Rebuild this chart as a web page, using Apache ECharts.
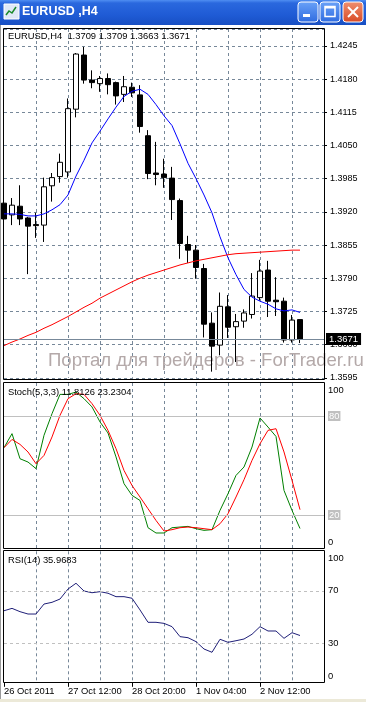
<!DOCTYPE html>
<html><head><meta charset="utf-8">
<script src="https://cdn.jsdelivr.net/npm/echarts@6/dist/echarts.min.js"></script>
<style>html,body{margin:0;padding:0;background:#fff;}#c{width:366px;height:702px;}</style>
</head><body><div id="c"></div>
<script>
// ---- data ----
const times = ['2011.10.26 04:00','2011.10.26 08:00','2011.10.26 12:00','2011.10.26 16:00','2011.10.26 20:00',
 '2011.10.27 00:00','2011.10.27 04:00','2011.10.27 08:00','2011.10.27 12:00','2011.10.27 16:00','2011.10.27 20:00',
 '2011.10.28 00:00','2011.10.28 04:00','2011.10.28 08:00','2011.10.28 12:00','2011.10.28 16:00','2011.10.28 20:00',
 '2011.10.31 00:00','2011.10.31 04:00','2011.10.31 08:00','2011.10.31 12:00','2011.10.31 16:00','2011.10.31 20:00',
 '2011.11.01 00:00','2011.11.01 04:00','2011.11.01 08:00','2011.11.01 12:00','2011.11.01 16:00','2011.11.01 20:00',
 '2011.11.02 00:00','2011.11.02 04:00','2011.11.02 08:00','2011.11.02 12:00','2011.11.02 16:00','2011.11.02 20:00',
 '2011.11.03 00:00','2011.11.03 04:00','2011.11.03 08:00'];
const open  = [1.3937,1.3914,1.3931,1.3908,1.3895,1.3894,1.3971,1.3989,1.3998,1.4121,1.4227,1.4178,1.4171,1.4181,1.4173,1.4150,1.4164,1.4149,1.4069,1.3996,1.3994,1.3986,1.3942,1.3856,1.3845,1.3809,1.3702,1.3659,1.3734,1.3695,1.3706,1.3719,1.3752,1.3806,1.3747,1.3745,1.3669,1.3709];
const high  = [1.3949,1.3947,1.3972,1.3910,1.3918,1.3987,1.3996,1.4034,1.4142,1.4231,1.4243,1.4197,1.4186,1.4191,1.4175,1.4186,1.4173,1.4168,1.4080,1.4057,1.4024,1.4008,1.3946,1.3873,1.3855,1.3818,1.3723,1.3762,1.3757,1.3720,1.3729,1.3800,1.3826,1.3824,1.3792,1.3752,1.3718,1.3709];
const low   = [1.3900,1.3894,1.3894,1.3798,1.3869,1.3861,1.3940,1.3977,1.3987,1.4105,1.4171,1.4162,1.4155,1.4150,1.4130,1.4135,1.4145,1.4075,1.3984,1.3972,1.3967,1.3904,1.3828,1.3820,1.3789,1.3674,1.3607,1.3639,1.3673,1.3626,1.3693,1.3711,1.3746,1.3714,1.3716,1.3664,1.3664,1.3663];
const close = [1.3906,1.3933,1.3906,1.3892,1.3893,1.3969,1.3987,1.4017,1.4122,1.4229,1.4178,1.4173,1.4181,1.4169,1.4147,1.4165,1.4153,1.4087,1.3995,1.3993,1.3987,1.3944,1.3858,1.3845,1.3811,1.3700,1.3657,1.3735,1.3694,1.3705,1.3722,1.3755,1.3804,1.3745,1.3744,1.3669,1.3708,1.3671];
const maFast = [1.3916,1.3916,1.3915,1.3912,1.3912,1.3916,1.3924,1.3934,1.3953,1.3990,1.4021,1.4055,1.4078,1.4102,1.4125,1.4146,1.4156,1.4160,1.4150,1.4130,1.4108,1.4089,1.4053,1.4015,1.3985,1.3953,1.3918,1.3871,1.3830,1.3797,1.3768,1.3753,1.3745,1.3739,1.3730,1.3726,1.3728,1.3723];
const maSlow = [1.3658,1.3665,1.3671,1.3678,1.3684,1.3692,1.3699,1.3707,1.3715,1.3724,1.3733,1.3741,1.3751,1.3759,1.3767,1.3775,1.3783,1.3790,1.3796,1.3801,1.3806,1.3811,1.3816,1.3820,1.3824,1.3827,1.3830,1.3833,1.3836,1.3838,1.3839,1.3840,1.3841,1.3842,1.3843,1.3844,1.3845,1.3845];
const stochMain = [60.8,69.3,54.1,52.1,48.1,68.3,81.4,93.1,93.1,94.5,90.5,85.5,76.4,69.7,55.2,39.0,31.9,28.8,12.3,9.1,9.1,12.3,12.7,13.1,11.7,10.7,11.1,22.8,32.9,44.0,49.1,61.2,78.8,73.3,67.6,34.9,22.8,11.8126];
const stochSignal = [60.8,65.8,62.8,58.2,51.1,56.1,67.3,80.4,90.5,93.5,93.1,87.5,80.4,71.3,60.2,47.0,37.9,30.9,23.8,16.7,10.3,11.1,12.3,12.7,12.3,11.7,11.1,14.7,20.8,30.9,41.4,53.1,63.2,71.3,72.3,58.2,41.0,23.2304];
const rsi = [54.8,56.6,54.1,52.3,52.3,59.9,61.2,63.7,71.3,75.7,69.8,68.5,69.3,68.1,65.5,65.5,64.3,55.4,46.0,46.0,45.2,42.7,35.1,34.3,31.3,25.7,23.2,33.1,30.8,32.0,33.3,36.9,42.7,39.4,39.4,33.8,38.1,35.9683];
const xTickIndex = [0,8,16,24,32];
const xTickLabels = ['26 Oct 2011','27 Oct 12:00','28 Oct 20:00','1 Nov 04:00','2 Nov 12:00'];
const priceMin = 1.3595, priceMax = 1.4278, priceStep = 0.0065;
const stochLevels = [80,20];
const rsiLevels = [70,30];
const stochLabels = [0,20,80,100];
const rsiLabels = [0,30,70,100];

// ---- chart ----
const FONT = 'Liberation Sans, Arial, sans-serif';
const FS = 9.4;
const n = times.length;
const cats = times.concat(['p1','p2','p3']);
const last = n - 1;
const grid = (top, height) => ({left:4, right:42, top:top, height:height, show:false});
const vSplit = {show:true, interval:(i)=> i>0 && i%4===0 && i<40, lineStyle:{color:'#778899', type:[3,3], width:1}};
const xAxis = (gi, labels) => ({
  type:'category', gridIndex:gi, data:cats, boundaryGap:false,
  axisLine:{show:false},
  axisTick:{show:labels, length:4, interval:(i)=>xTickIndex.indexOf(i)>=0, lineStyle:{color:'#000'}},
  axisLabel:{show:labels, interval:(i)=>xTickIndex.indexOf(i)>=0, align:'left', margin:4,
    formatter:(v,i)=> { const k = xTickIndex.indexOf(i); return k>=0 ? xTickLabels[k] : ''; },
    color:'#000', fontSize:FS, fontFamily:FONT},
  splitLine:vSplit
});
const indAxis = (gi, vals, grayVals) => ({
  type:'value', gridIndex:gi, position:'right', min:0, max:100,
  axisLine:{show:false}, axisTick:{show:false}, splitLine:{show:false},
  axisLabel:{customValues:vals, margin:4, color:'#000', fontSize:FS, fontFamily:FONT,
    formatter:(v)=> v===100 ? '{t|100}' : v===0 ? '{b|0}' : (grayVals.indexOf(v)>=0 ? '{g|'+v+'}' : String(v)),
    rich:{t:{padding:[15,0,0,0],fontSize:FS,fontFamily:FONT}, b:{padding:[0,0,12,0],fontSize:FS,fontFamily:FONT},
          g:{backgroundColor:'#c0c0c0', color:'#ffffff', padding:[1,1,0,1], fontSize:FS,fontFamily:FONT}}}
});
const levelLine = (vals, type) => ({silent:true, symbol:['none','none'], label:{show:false}, precision:4,
  lineStyle:{color:'#c0c0c0', type:type, width:1}, data: vals.map(v=>({yAxis:v}))});
const txt = {fontSize:FS, fontWeight:'normal', color:'#000', fontFamily:FONT};

const option = {
  animation:false,
  backgroundColor:'#ffffff',
  title:[
    {text:'EURUSD,H4  '+[open[last],high[last],low[last],close[last]].map(v=>v.toFixed(4)).join(' '), left:8, top:32, padding:0, textStyle:txt},
    {text:'Stoch(5,3,3) '+stochMain[last].toFixed(4)+' '+stochSignal[last].toFixed(4), left:8, top:388, padding:0, textStyle:txt},
    {text:'RSI(14) '+rsi[last].toFixed(4), left:8, top:556, padding:0, textStyle:txt}
  ],
  grid:[grid(29,348.8), grid(383,165), grid(551.3,131.5)],
  xAxis:[xAxis(0,false), xAxis(1,false), xAxis(2,true)],
  yAxis:[
    {type:'value', gridIndex:0, position:'right', min:priceMin, max:priceMax, interval:priceStep,
     axisLine:{show:false}, axisTick:{show:true, length:3, lineStyle:{color:'#000'}},
     axisLabel:{margin:6, showMaxLabel:false, showMinLabel:true, color:'#000', fontSize:9, fontFamily:FONT, formatter:(v)=>v.toFixed(4)},
     splitLine:{show:true, lineStyle:{color:'#778899', type:[3,3], width:1}}},
    indAxis(1, stochLabels, stochLevels),
    indAxis(2, rsiLabels, [])
  ],
  graphic:[
    // window title bar
    {type:'rect', shape:{x:0,y:0,width:366,height:25}, z:100,
     style:{fill:{type:'linear',x:0,y:0,x2:0,y2:1,colorStops:[{offset:0,color:'#4f8ef2'},{offset:0.12,color:'#2a68de'},{offset:0.6,color:'#1f5bd5'},{offset:1,color:'#174fc3'}]}}},
    {type:'rect', shape:{x:4,y:4,width:15,height:15}, z:101, style:{fill:'#dfe8f6', stroke:'#ffffff', lineWidth:1}},
    {type:'polyline', shape:{points:[[6,15],[9,11],[12,13],[16,7]]}, z:102, style:{stroke:'#1a8a2a', lineWidth:1.5, fill:null}},
    {type:'text', x:22, y:12, z:101, style:{text:'EURUSD ,H4', fill:'#ffffff', font:'bold 12.5px '+FONT, verticalAlign:'middle', textShadowColor:'#0a2a80', textShadowOffsetX:1, textShadowOffsetY:1, textShadowBlur:0}},
    {type:'rect', shape:{x:298,y:2,width:20,height:20,r:3}, z:101, style:{fill:{type:'linear',x:0,y:0,x2:0,y2:1,colorStops:[{offset:0,color:'#6aa2f8'},{offset:1,color:'#2e6be0'}]}, stroke:'#ffffff', lineWidth:1}},
    {type:'rect', shape:{x:303,y:14,width:7,height:3}, z:102, style:{fill:'#ffffff'}},
    {type:'rect', shape:{x:320,y:2,width:20,height:20,r:3}, z:101, style:{fill:{type:'linear',x:0,y:0,x2:0,y2:1,colorStops:[{offset:0,color:'#6aa2f8'},{offset:1,color:'#2e6be0'}]}, stroke:'#ffffff', lineWidth:1}},
    {type:'rect', shape:{x:325,y:6.5,width:10,height:10}, z:102, style:{fill:null, stroke:'#ffffff', lineWidth:1.5}},
    {type:'rect', shape:{x:325,y:6,width:10,height:2.5}, z:102, style:{fill:'#ffffff'}},
    {type:'rect', shape:{x:343,y:2,width:20,height:20,r:3}, z:101, style:{fill:{type:'linear',x:0,y:0,x2:0,y2:1,colorStops:[{offset:0,color:'#f09070'},{offset:1,color:'#d84a25'}]}, stroke:'#ffffff', lineWidth:1}},
    {type:'line', shape:{x1:348,y1:7,x2:358,y2:17}, z:102, style:{stroke:'#ffffff', lineWidth:2}},
    {type:'line', shape:{x1:358,y1:7,x2:348,y2:17}, z:102, style:{stroke:'#ffffff', lineWidth:2}},
    // window frame
    {type:'line', shape:{x1:0.5,y1:25,x2:0.5,y2:702}, z:100, style:{stroke:'#9a9a9a', lineWidth:1}},
    {type:'rect', shape:{x:0,y:699,width:366,height:3}, z:100, style:{fill:'#ece9d8'}},
    // panel borders
    {type:'rect', shape:{x:3.5,y:28.5,width:321,height:351}, z:50, style:{fill:null, stroke:'#000', lineWidth:1}},
    {type:'rect', shape:{x:3.5,y:382.5,width:321,height:166}, z:50, style:{fill:null, stroke:'#000', lineWidth:1}},
    {type:'rect', shape:{x:3.5,y:550.5,width:321,height:132}, z:50, style:{fill:null, stroke:'#000', lineWidth:1}},
    // watermark
    {type:'text', x:48, y:351, z:1, style:{text:'Портал для трейдеров - ForTrader.ru', fill:'#b4a9a9', font:'18.6px '+FONT}}
  ],
  series:[
    {type:'candlestick', xAxisIndex:0, yAxisIndex:0, barWidth:5,
     data: times.map((t,i)=>[open[i],close[i],low[i],high[i]]),
     itemStyle:{color:'#ffffff', color0:'#000000', borderColor:'#000000', borderColor0:'#000000', borderWidth:1}},
    {type:'line', xAxisIndex:0, yAxisIndex:0, data:maFast, symbol:'none', lineStyle:{color:'#0000ff', width:1}},
    {type:'line', xAxisIndex:0, yAxisIndex:0, data:maSlow, symbol:'none', lineStyle:{color:'#ff0000', width:1},
     markLine:{silent:true, precision:4, symbol:['none','none'], lineStyle:{color:'#778899', type:'solid', width:1},
       label:{show:true, position:'end', distance:2, formatter:()=>close[last].toFixed(4), backgroundColor:'#000', color:'#fff', padding:[1,3,1,3], fontSize:9.5, fontFamily:FONT},
       data:[{yAxis:close[last]}]}},
    {type:'line', xAxisIndex:1, yAxisIndex:1, data:stochMain, symbol:'none', lineStyle:{color:'#008000', width:1},
     markLine:levelLine(stochLevels,'solid')},
    {type:'line', xAxisIndex:1, yAxisIndex:1, data:stochSignal, symbol:'none', lineStyle:{color:'#ff0000', width:1}},
    {type:'line', xAxisIndex:2, yAxisIndex:2, data:rsi, symbol:'none', lineStyle:{color:'#1f1f78', width:1},
     markLine:levelLine(rsiLevels,[3,3])}
  ]
};
const chart = echarts.init(document.getElementById('c'), null, {renderer:'canvas'});
chart.setOption(option);
</script></body></html>
